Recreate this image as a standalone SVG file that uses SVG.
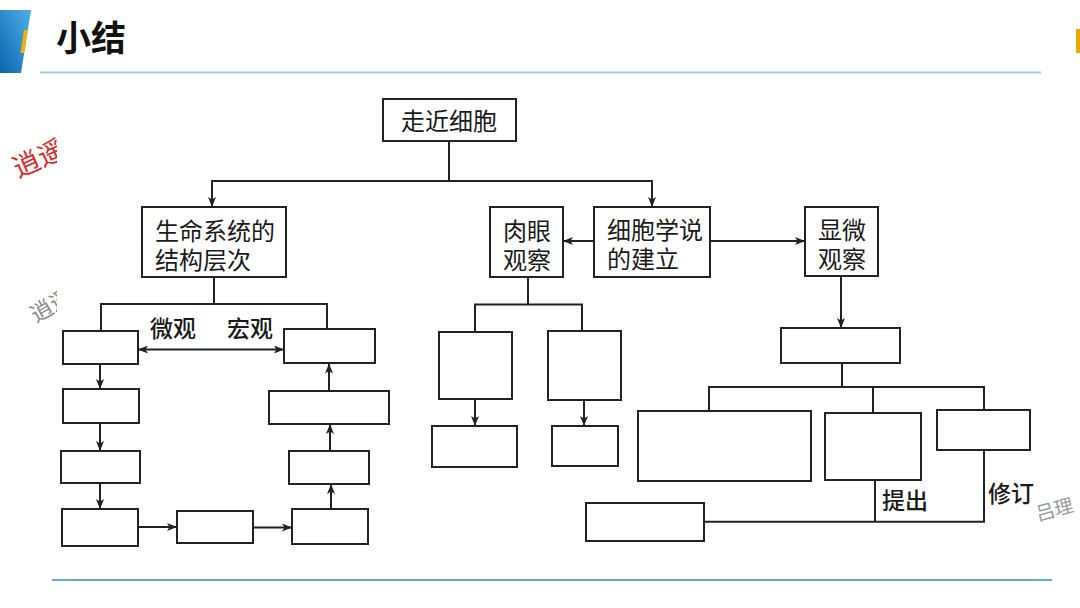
<svg xmlns="http://www.w3.org/2000/svg" width="1080" height="608" viewBox="0 0 1080 608">
  <style>
    .box{fill:#fff;stroke:#222;stroke-width:2}
    .ln{fill:none;stroke:#222;stroke-width:2}
    .t{font-family:"Liberation Sans","Noto Sans CJK SC",sans-serif;font-size:24px;fill:#1a1a1a}
    .lbl{font-family:"Liberation Sans","Noto Sans CJK SC",sans-serif;font-size:23px;fill:#1a1a1a;font-weight:500}
    .wm{font-family:"Liberation Sans","Noto Sans CJK SC",sans-serif}
  </style>
  <defs>
    <linearGradient id="hdr" x1="0" y1="1" x2="1" y2="0">
      <stop offset="0" stop-color="#0b64b0"/>
      <stop offset="1" stop-color="#4fb0e6"/>
    </linearGradient>
    <marker id="ah" viewBox="0 0 10 8" refX="10" refY="4" markerWidth="10" markerHeight="8" markerUnits="userSpaceOnUse" orient="auto-start-reverse">
      <path d="M0,0 L10,4 L0,8 L2.5,4 z" fill="#222"/>
    </marker>
    <clipPath id="wmclip"><rect x="0" y="100" width="57" height="400"/></clipPath>
  </defs>
  <rect width="1080" height="608" fill="#fff"/>

  <g id="header">
    <polygon points="0,10 31,10 21,73 0,73" fill="url(#hdr)"/>
    <polygon points="24,30 27.8,30 24.2,53 20.4,53" fill="#f2b200"/>
    <text x="56" y="51" font-family="Liberation Sans, Noto Sans CJK SC, sans-serif" font-size="35" font-weight="bold" fill="#111">小结</text>
    <line x1="40" y1="72.5" x2="1041" y2="72.5" stroke="#9fcbe6" stroke-width="2"/>
    <rect x="1076" y="29" width="4" height="24" fill="#f0a800"/>
    <line x1="52" y1="580" x2="1052" y2="580" stroke="#3a8fc4" stroke-width="1.5"/>
  </g>

  <g id="watermarks" clip-path="url(#wmclip)">
    <text class="wm" x="18" y="178" font-size="27" fill="#d42a2a" transform="rotate(-24 18 178)">逍遥</text>
    <text class="wm" x="36" y="323" font-size="22" fill="#8a8a8a" transform="rotate(-30 36 323)">逍遥</text>
  </g>
  <text class="wm" x="1038" y="521" font-size="19" fill="#9a9a9a" transform="rotate(-15 1038 521)">吕理</text>

  <g id="connectors">
    <path class="ln" d="M449,141 V181"/>
    <path class="ln" d="M449,181 H212 V207" marker-end="url(#ah)"/>
    <path class="ln" d="M449,181 H652 V207" marker-end="url(#ah)"/>
    <path class="ln" d="M594,241 H563" marker-end="url(#ah)"/>
    <path class="ln" d="M710,241 H805" marker-end="url(#ah)"/>
    <path class="ln" d="M841,276 V328" marker-end="url(#ah)"/>
    <path class="ln" d="M214,277 V304"/>
    <path class="ln" d="M101,330 V304 H327 V329"/>
    <path class="ln" d="M138,349.5 H284" marker-start="url(#ah)" marker-end="url(#ah)"/>
    <path class="ln" d="M100,364 V389" marker-end="url(#ah)"/>
    <path class="ln" d="M100,423 V451" marker-end="url(#ah)"/>
    <path class="ln" d="M100,483 V509" marker-end="url(#ah)"/>
    <path class="ln" d="M138,527 H177" marker-end="url(#ah)"/>
    <path class="ln" d="M253,527.5 H292" marker-end="url(#ah)"/>
    <path class="ln" d="M331,509 V484" marker-end="url(#ah)"/>
    <path class="ln" d="M330,451 V424" marker-end="url(#ah)"/>
    <path class="ln" d="M329,391 V363.5" marker-end="url(#ah)"/>
    <path class="ln" d="M528,277 V304.5"/>
    <path class="ln" d="M475,332 V304.5 H582 V331"/>
    <path class="ln" d="M475,399 V426" marker-end="url(#ah)"/>
    <path class="ln" d="M584,400 V426" marker-end="url(#ah)"/>
    <path class="ln" d="M842,363 V387"/>
    <path class="ln" d="M709,411 V387 H984 V410"/>
    <path class="ln" d="M873,387 V413"/>
    <path class="ln" d="M875,480 V521.7"/>
    <path class="ln" d="M984,450 V521.7 H704"/>
  </g>

  <g id="n-root"><rect class="box" x="383" y="99" width="133" height="42"/><text class="t" x="449" y="130" text-anchor="middle">走近细胞</text></g>
  <g id="n-levels"><rect class="box" x="142" y="207" width="144" height="70"/><text class="t"><tspan x="155" y="240">生命系统的</tspan><tspan x="155" y="269">结构层次</tspan></text></g>
  <g id="n-naked"><rect class="box" x="490" y="207" width="73" height="70"/><text class="t" text-anchor="middle"><tspan x="527" y="240">肉眼</tspan><tspan x="527" y="269">观察</tspan></text></g>
  <g id="n-theory"><rect class="box" x="594" y="207" width="116" height="70"/><text class="t"><tspan x="607" y="239">细胞学说</tspan><tspan x="607" y="268">的建立</tspan></text></g>
  <g id="n-micro"><rect class="box" x="805" y="207" width="73" height="69"/><text class="t" text-anchor="middle"><tspan x="842" y="239">显微</tspan><tspan x="842" y="268">观察</tspan></text></g>

  <g id="labels">
    <text class="lbl" x="150" y="337">微观</text>
    <text class="lbl" x="227" y="337">宏观</text>
    <text class="lbl" x="882" y="509">提出</text>
    <text class="lbl" x="988" y="502">修订</text>
  </g>

  <g id="n-a1"><rect class="box" x="63" y="331" width="75" height="33"/></g>
  <g id="n-a2"><rect class="box" x="63" y="389" width="76" height="34"/></g>
  <g id="n-a3"><rect class="box" x="61" y="451" width="79" height="32"/></g>
  <g id="n-a4"><rect class="box" x="62" y="509" width="76" height="37"/></g>
  <g id="n-b1"><rect class="box" x="177" y="511" width="76" height="32"/></g>
  <g id="n-c4"><rect class="box" x="292" y="509" width="76" height="35"/></g>
  <g id="n-c3"><rect class="box" x="289" y="451" width="80" height="33"/></g>
  <g id="n-c2"><rect class="box" x="269" y="391" width="120" height="33"/></g>
  <g id="n-c1"><rect class="box" x="284" y="329" width="91" height="34"/></g>

  <g id="n-d1"><rect class="box" x="439" y="332" width="73" height="67"/></g>
  <g id="n-d2"><rect class="box" x="548" y="331" width="73" height="69"/></g>
  <g id="n-e1"><rect class="box" x="432" y="426" width="85" height="41"/></g>
  <g id="n-e2"><rect class="box" x="552" y="426" width="66" height="40"/></g>

  <g id="n-f"><rect class="box" x="781" y="328" width="119" height="35"/></g>
  <g id="n-g1"><rect class="box" x="638" y="411" width="173" height="70"/></g>
  <g id="n-g2"><rect class="box" x="825" y="413" width="96" height="67"/></g>
  <g id="n-g3"><rect class="box" x="937" y="410" width="93" height="40"/></g>
  <g id="n-h"><rect class="box" x="586" y="503" width="118" height="38"/></g>
</svg>
